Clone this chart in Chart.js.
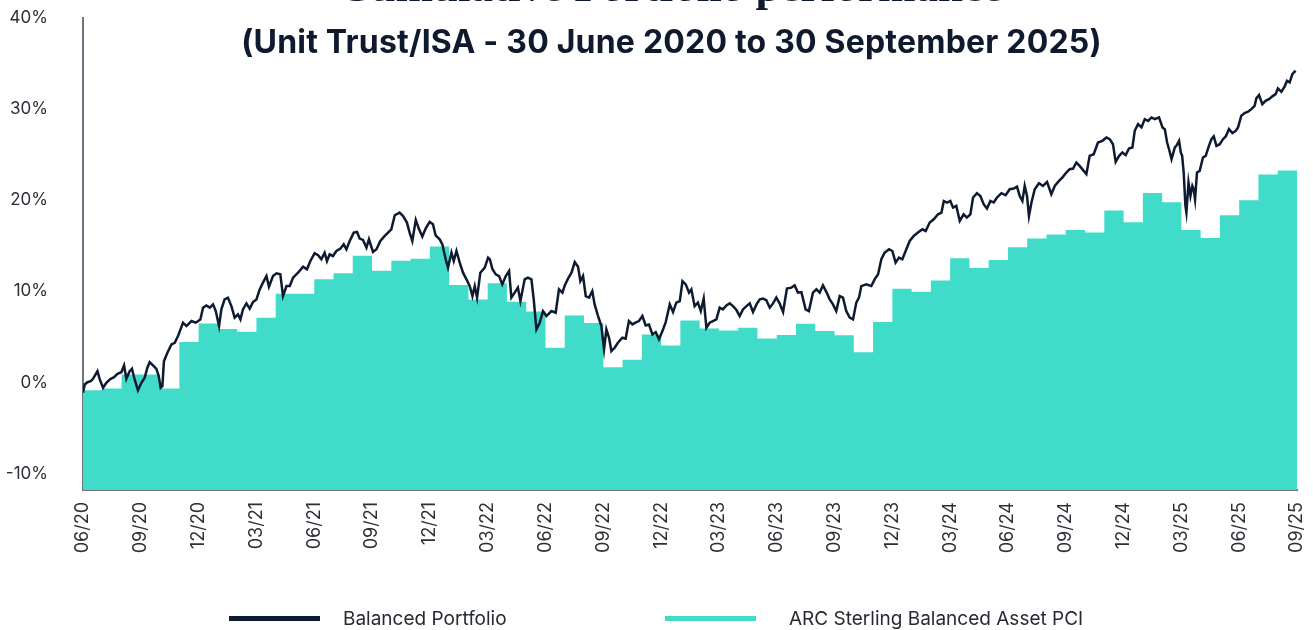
<!DOCTYPE html>
<html>
<head>
<meta charset="utf-8">
<script src="https://cdn.jsdelivr.net/npm/chart.js@4.4.1/dist/chart.umd.min.js"></script>
<style>
    html, body { margin: 0; padding: 0; background: #fff; }
    #wrap { position: relative; width: 1313px; height: 630px; overflow: hidden; }
    #chart { position: absolute; left: 0; top: 0; }
    .title1 {
        position: absolute; left: 0; width: 1341px; top: -40px; text-align: center;
        font: 700 45px "Liberation Serif", "DejaVu Serif", serif; color: #0f1a2e;
    }
    .title2 {
        position: absolute; left: 0; width: 1343px; top: 22px; text-align: center;
        font: 700 32px Inter, "Noto Sans", sans-serif; color: #0f1a2e; letter-spacing: 0.2px;
    }
    .legend-item { position: absolute; top: 607px; display: flex; align-items: center; height: 22px;
        font: 400 19px Inter, "Noto Sans", sans-serif; color: #262b33; }
    .legend-item .mark { width: 91px; height: 5px; }
    #leg0 { left: 229px; }
    #leg0 .mark { margin-right: 23px; }
    #leg1 { left: 665px; }
    #leg1 .mark { margin-right: 33px; }
</style>
</head>
<body>
<div id="wrap">
    <canvas id="chart" width="1313" height="630"></canvas>
    <div class="title1">Cumulative Portfolio performance</div>
    <div class="title2">(Unit Trust/ISA - 30 June 2020 to 30 September 2025)</div>
    <div id="legend"></div>
</div>
<script>
// x axis: months since 30 June 2020
const tickLabels = ['06/20', '09/20', '12/20', '03/21', '06/21', '09/21', '12/21', '03/22', '06/22', '09/22', '12/22',
    '03/23', '06/23', '09/23', '12/23', '03/24', '06/24', '09/24', '12/24', '03/25', '06/25', '09/25'];
const yTicks = [-10, 0, 10, 20, 30, 40];

const seriesNames = ['Balanced Portfolio', 'ARC Sterling Balanced Asset PCI'];
const seriesColors = ['#0d1a2f', '#41dcc9'];

// Balanced Portfolio, cumulative %
const portfolioMonths = [0, 0.09, 0.23, 0.40, 0.52, 0.75, 0.87, 1.04, 1.21, 1.39, 1.61, 1.79, 1.99, 2.13, 2.25, 2.42, 2.54, 2.68, 2.85,
    3.03, 3.20, 3.34, 3.46, 3.63, 3.81, 3.93, 4.03, 4.12, 4.20, 4.38, 4.59, 4.76, 4.93, 5.19, 5.37, 5.63, 5.85, 6.09, 6.23, 6.40,
    6.58, 6.75, 6.89, 7.06, 7.18, 7.35, 7.52, 7.70, 7.87, 8.04, 8.17, 8.30, 8.48, 8.65, 8.82, 9.00, 9.17, 9.34, 9.52, 9.65, 9.86,
    10.04, 10.24, 10.38, 10.56, 10.73, 10.90, 11.16, 11.42, 11.62, 11.80, 12.02, 12.20, 12.37, 12.54, 12.66, 12.80, 12.97, 13.15,
    13.36, 13.53, 13.67, 13.84, 14.05, 14.22, 14.36, 14.53, 14.71, 14.84, 15.05, 15.23, 15.43, 15.66, 15.83, 16.00, 16.18, 16.43,
    16.61, 16.81, 16.95, 17.09, 17.27, 17.44, 17.61, 17.78, 17.99, 18.16, 18.30, 18.51, 18.65, 18.82, 18.94, 19.12, 19.24, 19.38,
    19.55, 19.72, 19.90, 20.07, 20.21, 20.33, 20.45, 20.62, 20.85, 21.02, 21.11, 21.25, 21.42, 21.59, 21.76, 21.94, 22.11, 22.23,
    22.40, 22.57, 22.70, 22.92, 23.09, 23.27, 23.39, 23.53, 23.70, 23.87, 24.05, 24.31, 24.53, 24.70, 24.88, 25.00, 25.17, 25.35,
    25.52, 25.69, 25.81, 25.95, 26.09, 26.26, 26.43, 26.55, 26.73, 26.90, 27.04, 27.16, 27.30, 27.42, 27.59, 27.76, 27.99, 28.16,
    28.33, 28.51, 28.72, 28.85, 29.03, 29.20, 29.37, 29.55, 29.72, 29.89, 30.07, 30.24, 30.45, 30.62, 30.79, 30.97, 31.11, 31.28,
    31.45, 31.57, 31.74, 31.91, 32.06, 32.21, 32.35, 32.52, 32.69, 32.87, 33.04, 33.21, 33.39, 33.56, 33.73, 33.91, 34.08, 34.25,
    34.43, 34.60, 34.77, 34.95, 35.12, 35.29, 35.46, 35.64, 35.81, 35.98, 36.15, 36.33, 36.53, 36.76, 36.93, 37.10, 37.28, 37.50,
    37.67, 37.88, 38.06, 38.23, 38.40, 38.58, 38.75, 38.92, 39.09, 39.27, 39.44, 39.61, 39.79, 39.96, 40.13, 40.27, 40.39, 40.65,
    40.91, 41.08, 41.26, 41.43, 41.60, 41.83, 42.00, 42.17, 42.35, 42.52, 42.69, 42.90, 43.11, 43.33, 43.56, 43.73, 43.94, 44.15,
    44.37, 44.55, 44.67, 44.84, 45.01, 45.15, 45.32, 45.50, 45.70, 45.87, 46.05, 46.19, 46.39, 46.57, 46.74, 46.91, 47.09, 47.26,
    47.43, 47.66, 47.88, 48.09, 48.30, 48.47, 48.61, 48.75, 48.87, 48.99, 49.09, 49.22, 49.39, 49.61, 49.82, 50.03, 50.25, 50.43,
    50.65, 50.82, 51.03, 51.20, 51.38, 51.55, 51.72, 51.89, 52.07, 52.24, 52.45, 52.67, 52.90, 53.11, 53.28, 53.45, 53.59, 53.77,
    53.94, 54.11, 54.28, 54.46, 54.58, 54.75, 54.93, 55.10, 55.27, 55.45, 55.62, 55.84, 56.02, 56.14, 56.26, 56.36, 56.49, 56.66,
    56.74, 56.88, 56.97, 57.04, 57.12, 57.21, 57.26, 57.37, 57.47, 57.57, 57.64, 57.71, 57.81, 57.95, 58.12, 58.26, 58.43, 58.56,
    58.68, 58.82, 58.99, 59.16, 59.30, 59.47, 59.65, 59.82, 59.94, 60.11, 60.28, 60.46, 60.63, 60.80, 60.89, 61.03, 61.20, 61.37,
    61.55, 61.72, 61.89, 62.01, 62.19, 62.36, 62.48, 62.62, 62.76, 62.84, 62.93];
const portfolioValues = [-1.13, -0.22, 0.03, 0.14, 0.40, 1.24, 0.33, -0.58, -0.03, 0.33, 0.58, 0.95, 1.13, 1.87, 0.40, 1.24, 1.50, 0.33, -0.85,
    -0.03, 0.52, 1.62, 2.23, 1.87, 1.50, 0.69, -0.58, -0.40, 2.34, 3.26, 4.18, 4.36, 5.09, 6.56, 6.19, 6.74, 6.56, 6.92, 8.21, 8.46,
    8.21, 8.57, 7.84, 6.19, 8.02, 9.12, 9.31, 8.38, 7.11, 7.47, 6.92, 8.02, 8.68, 8.10, 8.82, 9.12, 10.22, 10.96, 11.68, 10.51, 11.68,
    11.98, 11.87, 9.48, 10.58, 10.58, 11.50, 12.05, 12.71, 12.42, 13.33, 14.18, 13.96, 13.52, 14.25, 13.33, 14.07, 13.88, 14.43,
    14.69, 15.16, 14.62, 15.53, 16.45, 16.52, 15.79, 15.64, 14.80, 15.71, 14.32, 14.62, 15.53, 16.08, 16.45, 16.81, 18.35, 18.65,
    18.27, 17.55, 16.45, 15.53, 17.84, 16.81, 16.01, 16.89, 17.62, 17.36, 16.15, 15.71, 15.16, 13.52, 12.60, 14.25, 13.33, 14.43,
    13.15, 12.05, 11.32, 10.58, 9.48, 10.58, 9.31, 12.05, 12.60, 13.70, 13.52, 12.42, 11.87, 11.68, 10.77, 11.68, 12.23, 9.31,
    9.86, 10.41, 8.93, 11.32, 11.50, 11.32, 9.12, 5.82, 6.56, 7.84, 7.29, 7.84, 7.66, 10.22, 9.86, 10.66, 11.39, 12.05,
    13.22, 12.71, 11.13, 11.68, 9.48, 9.31, 10.03, 8.57, 7.29, 6.19, 3.63, 5.82, 4.91, 3.44, 3.81, 4.36, 4.91, 4.80,
    6.74, 6.37, 6.63, 6.74, 7.29, 6.26, 6.37, 5.27, 5.53, 4.73, 5.64, 6.63, 8.57, 7.73, 8.76, 8.93, 11.13, 10.77,
    9.86, 10.22, 8.38, 8.76, 7.84, 9.20, 6.01, 6.56, 6.74, 6.92, 8.21, 8.02, 8.46, 8.68, 8.38, 7.95, 7.29, 8.02,
    8.38, 8.68, 7.73, 8.57, 9.12, 9.20, 9.04, 8.21, 8.68, 9.31, 8.68, 7.73, 10.30, 10.41, 10.66, 9.86, 9.92, 8.02,
    7.84, 9.86, 10.22, 9.86, 10.66, 9.92, 9.12, 8.57, 7.84, 9.48, 9.31, 7.84, 7.11, 6.92, 8.76, 9.31, 10.58, 10.77,
    10.58, 11.32, 11.87, 13.52, 14.25, 14.62, 14.43, 13.15, 13.70, 13.52, 14.43, 15.53, 16.08, 16.45, 16.81, 16.63, 17.55, 17.91,
    18.46, 18.65, 19.92, 19.75, 19.92, 19.19, 19.38, 17.73, 18.46, 18.10, 18.46, 20.30, 20.77, 20.47, 19.56, 19.08, 19.92, 19.75,
    20.30, 20.77, 20.55, 21.21, 21.28, 21.50, 20.47, 19.92, 21.57, 20.47, 18.27, 19.75, 21.21, 21.87, 21.57, 22.01, 20.66, 21.57,
    22.12, 22.49, 23.04, 23.41, 23.48, 24.14, 23.77, 23.33, 22.86, 24.87, 25.05, 26.34, 26.52, 26.89, 26.70, 26.15, 24.21, 24.87,
    25.24, 24.95, 25.68, 25.79, 27.62, 28.35, 27.99, 28.90, 28.71, 29.09, 28.90, 29.09, 27.99, 27.80, 26.34, 25.60, 24.51, 25.79,
    25.97, 26.52, 25.24, 24.87, 23.04, 19.38, 18.65, 21.94, 20.47, 21.57, 21.21, 20.11, 23.04, 23.22, 24.69, 24.87, 25.97, 26.70,
    27.00, 25.97, 26.15, 26.70, 27.00, 27.80, 27.36, 27.62, 27.99, 29.27, 29.56, 29.71, 30.00, 30.36, 31.18, 31.54, 30.55, 30.91,
    31.10, 31.40, 31.65, 32.27, 31.90, 32.49, 33.11, 32.93, 33.85, 34.03, 34.21, 34.40];

// ARC Sterling Balanced Asset PCI, monthly values (month 0 .. 63)
const arcValues = [-0.85, -0.66, 0.88, 0.88, -0.66, 4.43, 6.48, 5.86, 5.57, 7.11, 9.75, 9.75, 11.32, 11.98, 13.92, 12.27,
    13.37, 13.59, 14.91, 10.71, 9.12, 10.90, 8.87, 7.80, 3.81, 7.36, 6.52, 1.68, 2.49, 5.27, 4.07, 6.81,
    5.93, 5.71, 6.01, 4.84, 5.20, 6.45, 5.64, 5.19, 3.33, 6.63, 10.30, 9.97, 11.18, 13.63, 12.56, 13.44,
    14.84, 15.79, 16.23, 16.74, 16.45, 18.87, 17.58, 20.80, 19.78, 16.74, 15.86, 18.35, 20.00, 22.82, 23.26, 24.87];

const fontFamily = 'Inter, "Noto Sans", sans-serif';
const axisColor = '#6e7380';

document.addEventListener('DOMContentLoaded', () => {
    const chart = initializeChart();
    buildLegend(chart);
});

function initializeChart() {
    return new Chart(document.getElementById('chart'), {
        type: 'line',
        data: {
            datasets: [{
                label: seriesNames[0],
                data: portfolioMonths.map((m, i) => ({ x: m, y: portfolioValues[i] })),
                borderColor: seriesColors[0],
                backgroundColor: seriesColors[0],
                borderWidth: 2.5,
                pointRadius: 0,
                tension: 0,
                fill: false
            }, {
                label: seriesNames[1],
                data: arcValues.map((v, i) => ({ x: i, y: v })),
                borderColor: seriesColors[1],
                backgroundColor: seriesColors[1],
                borderWidth: 0,
                pointRadius: 0,
                stepped: true,
                fill: 'start'
            }]
        },
        options: {
            responsive: false,
            animation: false,
            layout: { padding: { top: 18, right: 16, bottom: 50, left: 0 } },
            plugins: {
                legend: { display: false },
                title: { display: false },
                tooltip: { enabled: false }
            },
            scales: {
                x: {
                    type: 'linear',
                    min: 0,
                    max: 63,
                    grid: { display: false, drawTicks: false },
                    border: { display: true, color: axisColor, width: 2 },
                    afterBuildTicks: (scale) => {
                        scale.ticks = tickLabels.map((_, i) => ({ value: i * 3 }));
                    },
                    afterFit: (scale) => {
                        scale.height = 90;
                        scale.paddingLeft = 0;
                        scale.paddingRight = 0;
                    },
                    ticks: {
                        autoSkip: false,
                        minRotation: 90,
                        maxRotation: 90,
                        padding: 12,
                        color: '#2b2f36',
                        font: { family: fontFamily, size: 18 },
                        callback: (v) => tickLabels[Math.round(v / 3)]
                    }
                },
                y: {
                    min: -11.8,
                    max: 40,
                    grid: { display: false, drawTicks: false },
                    border: { display: true, color: axisColor, width: 2 },
                    afterBuildTicks: (scale) => {
                        scale.ticks = yTicks.map(v => ({ value: v }));
                    },
                    afterFit: (scale) => {
                        scale.width = 83;
                        scale.paddingTop = 0;
                        scale.paddingBottom = 0;
                    },
                    ticks: {
                        padding: 35,
                        color: '#2b2f36',
                        font: { family: fontFamily, size: 17 },
                        callback: (v) => `${v}%`
                    }
                }
            }
        }
    });
}

function buildLegend(chart) {
    const box = document.getElementById('legend');
    chart.data.datasets.forEach((ds, i) => {
        const item = document.createElement('div');
        item.className = 'legend-item';
        item.id = `leg${i}`;
        item.innerHTML = `<span class="mark" style="background:${ds.borderColor}"></span><span>${ds.label}</span>`;
        box.appendChild(item);
    });
}
</script>
</body>
</html>
